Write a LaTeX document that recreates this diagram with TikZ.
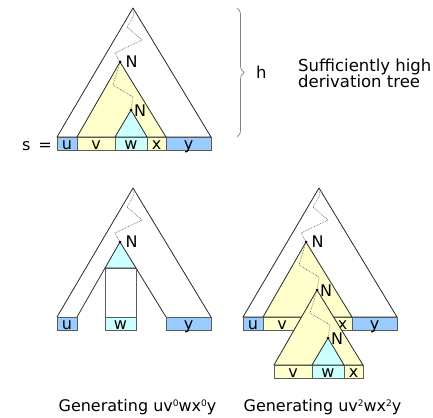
\documentclass[tikz,border=0pt]{standalone}
\usepackage{fontspec}
\setmainfont{DejaVu Sans}
\usetikzlibrary{decorations.pathreplacing}
\definecolor{cblue}{RGB}{153,204,255}
\definecolor{cyel}{RGB}{255,255,204}
\definecolor{ccyan}{RGB}{204,255,255}
\definecolor{edgec}{RGB}{40,40,40}
\definecolor{boxc}{RGB}{90,90,90}
\definecolor{zigc}{RGB}{110,110,110}
\newcommand\supdig[1]{\raisebox{5pt}{\fontsize{9}{9}\selectfont #1}}
\tikzset{
  tri/.style={draw=edgec, line width=0.8pt, line join=round},
  cell/.style={draw=boxc, line width=0.8pt},
  zig/.style={draw=zigc, densely dotted, line width=0.7pt},
  ndot/.style={circle, fill=black, inner sep=0pt, minimum size=3pt},
  lbl/.style={font=\fontsize{16}{18}\selectfont, inner sep=0pt},
  big/.style={font=\fontsize{16}{18}\selectfont, inner sep=0pt},
  side/.style={font=\fontsize{16.5}{18}\selectfont, inner sep=0pt},
}
\begin{document}
\begin{tikzpicture}[x=1pt,y=-1pt]
\useasboundingbox (0,0) rectangle (433,417);

% ===== top tree =====
\draw[tri, fill=white] (133,8) -- (57,137) -- (211,137) -- cycle;
\draw[tri, fill=cyel] (120,62) -- (77,137) -- (166,137) -- cycle;
\draw[tri, fill=ccyan] (131,110) -- (115,137) -- (147,137) -- cycle;
\draw[cell, fill=cblue] (57,137) rectangle (77,150);
\draw[cell, fill=cyel] (77,137) rectangle (115,150);
\draw[cell, fill=ccyan] (115,137) rectangle (147,150);
\draw[cell, fill=cyel] (147,137) rectangle (166,150);
\draw[cell, fill=cblue] (166,137) rectangle (211,150);
\draw[zig] (133,9) -- (134,15) -- (127,27) -- (142,40) -- (115,53) -- (120,62);
\draw[zig] (120,62) -- (113,85) -- (133,97) -- (131,110);
\node[ndot] (ta) at (120,62) {};
\node[ndot] (tb) at (131,110) {};
\node[lbl, anchor=west] (tNa) at (125.5,62) {N};
\node[lbl, anchor=west] (tNb) at (134,111) {N};
\node[lbl, anchor=base] (tu) at (67,149.5) {u};
\node[lbl, anchor=base] (tv) at (96,149.5) {v};
\node[lbl, anchor=base] (tw) at (131,149.5) {w};
\node[lbl, anchor=base] (tx) at (156.5,149.5) {x};
\node[lbl, anchor=base] (ty) at (188.5,149.5) {y};
\node[lbl, anchor=base east] (ts) at (52,150) {s\hspace{8pt}=};

% brace and text
\draw[gray, line width=0.7pt, decorate, decoration={brace, amplitude=7pt}] (237,8) -- (237,137);
\node[side, anchor=base west] (th) at (256,79) {h};
\node[side, anchor=base west] (tt1) at (298,72) {Sufficiently high};
\node[side, anchor=base west] (tt2) at (298,88) {derivation tree};

% ===== bottom left =====
\begin{scope}[shift={(0,180)}]
\draw[tri] (57,137) -- (133,8) -- (211,137);
\draw[tri] (77,137) -- (105,88);
\draw[tri] (166,137) -- (136,88);
\draw[tri, fill=ccyan] (120,62) -- (105,88) -- (136,88) -- cycle;
\draw[cell, fill=white] (105,88) rectangle (136,137);
\draw[cell, fill=cblue] (57,137) rectangle (77,150);
\draw[cell, fill=ccyan] (105,137) rectangle (136,150);
\draw[cell, fill=cblue] (166,137) rectangle (211,150);
\draw[zig] (133,9) -- (134,15) -- (127,27) -- (142,40) -- (115,53) -- (120,62);
\node[ndot] (la) at (120,62) {};
\node[lbl, anchor=west] (lN) at (125.5,62) {N};
\node[lbl, anchor=base] (lu) at (67,149.5) {u};
\node[lbl, anchor=base] (lw) at (120.5,149.5) {w};
\node[lbl, anchor=base] (ly) at (188.5,149.5) {y};
\end{scope}

% ===== bottom right =====
\begin{scope}[shift={(186,180)}]
\draw[tri, fill=white] (133,8) -- (57,137) -- (211,137) -- cycle;
\draw[tri, fill=cyel] (120,62) -- (77,137) -- (166,137) -- cycle;
\draw[cell, fill=cblue] (57,137) rectangle (77,150);
\draw[cell, fill=cyel] (77,137) rectangle (115,150);
\draw[cell, fill=cyel] (147,137) rectangle (166,150);
\draw[cell, fill=cblue] (166,137) rectangle (211,150);
\node[lbl, anchor=base] (ru) at (67,149.5) {u};
\node[lbl, anchor=base] (rv) at (96,149.5) {v};
\node[lbl, anchor=base] (rx) at (156.5,149.5) {x};
\node[lbl, anchor=base] (ry) at (188.5,149.5) {y};
\draw[zig] (133,9) -- (134,15) -- (127,27) -- (142,40) -- (115,53) -- (120,62);
\draw[zig] (120,62) -- (113,85) -- (133,97) -- (131,110);
\end{scope}
\begin{scope}[shift={(197,228)}]
\draw[tri, fill=cyel] (120,62) -- (77,137) -- (166,137) -- cycle;
\draw[tri, fill=ccyan] (131,110) -- (115,137) -- (147,137) -- cycle;
\draw[cell, fill=cyel] (77,137) rectangle (115,150);
\draw[cell, fill=ccyan] (115,137) rectangle (147,150);
\draw[cell, fill=cyel] (147,137) rectangle (166,150);
\draw[zig] (120,62) -- (113,85) -- (133,97) -- (131,110);
\node[lbl, anchor=base] (sv) at (96,149.5) {v};
\node[lbl, anchor=base] (sw) at (131,149.5) {w};
\node[lbl, anchor=base] (sx) at (156.5,149.5) {x};
\end{scope}
\begin{scope}[shift={(186,180)}]
\node[ndot] (ra) at (120,62) {};
\node[ndot] (rb) at (131,110) {};
\node[lbl, anchor=west] (rNa) at (125.5,62) {N};
\node[lbl, anchor=west] (rNb) at (134,111) {N};
\end{scope}
\begin{scope}[shift={(197,228)}]
\node[ndot] (sb) at (131,110) {};
\node[lbl, anchor=west] (sNb) at (134,111) {N};
\end{scope}

% captions
\node[big, anchor=base] (c1) at (137.5,411) {Generating uv\supdig{0}wx\supdig{0}y};
\node[big, anchor=base] (c2) at (322.5,411) {Generating uv\supdig{2}wx\supdig{2}y};
\end{tikzpicture}
\end{document}
